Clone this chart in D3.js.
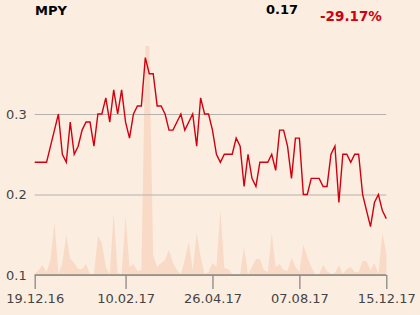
<!DOCTYPE html>
<html>
<head>
<meta charset="utf-8">
<script src="https://cdn.jsdelivr.net/npm/d3@7"></script>
<style>
  body { margin: 0; background: #fcede1; }
  svg { display: block; }
  text { font-family: "DejaVu Sans", sans-serif; }
</style>
</head>
<body>
<div id="chart"></div>
<script>
// price per trading point
const prices = [
  0.24, 0.24, 0.24, 0.24, 0.26, 0.28, 0.30, 0.25, 0.24, 0.29,
  0.25, 0.26, 0.28, 0.29, 0.29, 0.26, 0.30, 0.30, 0.32, 0.29,
  0.33, 0.30, 0.33, 0.29, 0.27, 0.30, 0.31, 0.31, 0.37, 0.35,
  0.35, 0.31, 0.31, 0.30, 0.28, 0.28, 0.29, 0.30, 0.28, 0.29,
  0.30, 0.26, 0.32, 0.30, 0.30, 0.28, 0.25, 0.24, 0.25, 0.25,
  0.25, 0.27, 0.26, 0.21, 0.25, 0.22, 0.21, 0.24, 0.24, 0.24,
  0.25, 0.23, 0.28, 0.28, 0.26, 0.22, 0.27, 0.27, 0.20, 0.20,
  0.22, 0.22, 0.22, 0.21, 0.21, 0.25, 0.26, 0.19, 0.25, 0.25,
  0.24, 0.25, 0.25, 0.20, 0.18, 0.16, 0.19, 0.20, 0.18, 0.17
];

// traded volume per point
const volumes = [
  1, 5, 10, 3, 15, 53, 1, 12, 40, 16,
  12, 6, 6, 11, 1, 1, 39, 32, 8, 1,
  62, 2, 1, 59, 8, 11, 4, 5, 228, 228,
  20, 8, 12, 15, 25, 12, 5, 1, 15, 33,
  5, 42, 18, 1, 3, 12, 8, 65, 7, 6,
  1, 1, 1, 28, 1, 8, 16, 16, 5, 3,
  42, 8, 11, 5, 4, 17, 8, 3, 30, 18,
  8, 1, 1, 10, 4, 1, 2, 10, 1, 6,
  8, 3, 3, 14, 14, 5, 12, 1, 42, 22
];

const tickIndex = [0, 23, 45, 67, 89];
const tickLabels = ["19.12.16", "10.02.17", "26.04.17", "07.08.17", "15.12.17"];
const yTicks = [0.1, 0.2, 0.3];

const w = 420, h = 315;
const left = 34.7, right = 386.3, bottom = 275;
const font = "DejaVu Sans";

const svg = d3.select("#chart").append("svg")
  .attr("width", w)
  .attr("height", h);

svg.append("rect").attr("width", w).attr("height", h).attr("fill", "#fcede1");

const xScale = d3.scaleLinear().domain([0, prices.length - 1]).range([left, right]);
const yScale = d3.scaleLinear().domain([0.1, 0.3]).range([bottom, 114]);
const vScale = d3.scaleLinear().domain([0, d3.max(volumes)]).range([bottom, 46]);

// volume area
const area = d3.area()
  .x((d, i) => xScale(i))
  .y0(bottom)
  .y1(d => vScale(d));

svg.append("path")
  .datum(volumes)
  .attr("d", area)
  .attr("fill", "#f9dac6");

// grid
const yAxis = d3.axisLeft(yScale)
  .tickValues(yTicks)
  .tickSize(-(right - left))
  .tickPadding(8)
  .tickFormat(d3.format(".1f"));

const gy = svg.append("g")
  .attr("transform", "translate(" + left + ",0)")
  .call(yAxis)
  .attr("font-family", font)
  .attr("font-size", 13);
gy.select(".domain").remove();
gy.selectAll("line").attr("stroke", "#b5b1ad").attr("stroke-width", 1);
gy.selectAll("text")
  .attr("fill", "#444")
  .attr("x", -8);

// price line
const line = d3.line()
  .x((d, i) => xScale(i))
  .y(d => yScale(d));

svg.append("path")
  .datum(prices)
  .attr("d", line)
  .attr("fill", "none")
  .attr("stroke", "#d0000f")
  .attr("stroke-width", 1.4);

// x axis
const xAxis = d3.axisBottom(xScale)
  .tickValues(tickIndex)
  .tickSize(14)
  .tickPadding(5)
  .tickFormat((d, i) => tickLabels[i]);

const gx = svg.append("g")
  .attr("transform", "translate(0," + bottom + ")")
  .call(xAxis)
  .attr("font-family", font)
  .attr("font-size", 13);
gx.select(".domain").attr("stroke", "#8a8885").attr("stroke-width", 1.3).attr("d", "M" + left + ",0H" + right);
gx.selectAll("line").attr("stroke", "#8a8885").attr("stroke-width", 1.3);
gx.selectAll("text").attr("fill", "#444");

// header
const last = prices[prices.length - 1];
const change = (last / prices[0] - 1) * 100;

svg.append("text")
  .attr("x", 35).attr("y", 15)
  .attr("font-family", font)
  .attr("font-weight", "bold")
  .attr("font-size", 13)
  .attr("fill", "#000")
  .text("MPY");

svg.append("text")
  .attr("x", 298).attr("y", 14)
  .attr("text-anchor", "end")
  .attr("font-family", font)
  .attr("font-weight", "bold")
  .attr("font-size", 13)
  .attr("fill", "#000")
  .text(last.toFixed(2));

svg.append("text")
  .attr("x", 320).attr("y", 21)
  .attr("font-family", font)
  .attr("font-weight", "bold")
  .attr("font-size", 13.5)
  .attr("fill", "#d0000f")
  .text(change.toFixed(2) + "%");
</script>
</body>
</html>
